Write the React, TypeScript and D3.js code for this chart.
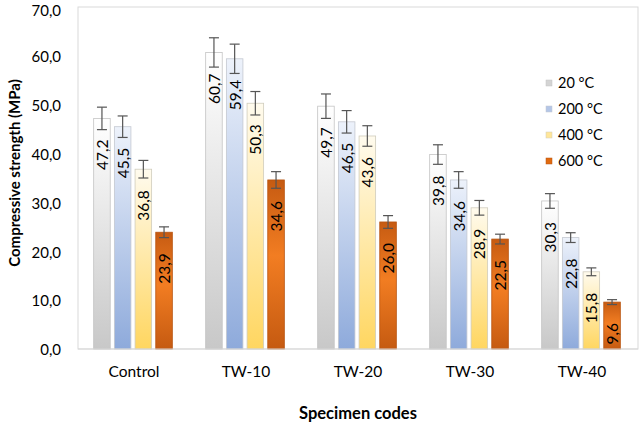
import React from 'react';
import * as d3 from 'd3';

const categories = ['Control', 'TW-10', 'TW-20', 'TW-30', 'TW-40'];
const seriesNames = ['20 °C', '200 °C', '400 °C', '600 °C'];
const values20 = [47.2, 60.7, 49.7, 39.8, 30.3];
const values200 = [45.5, 59.4, 46.5, 34.6, 22.8];
const values400 = [36.8, 50.3, 43.6, 28.9, 15.8];
const values600 = [23.9, 34.6, 26.0, 22.5, 9.6];
const errors20 = [2.3, 3.0, 2.5, 2.0, 1.5];
const errors200 = [2.2, 3.0, 2.3, 1.7, 1.0];
const errors400 = [1.8, 2.4, 2.1, 1.5, 0.8];
const errors600 = [1.1, 1.7, 1.3, 1.0, 0.5];
const yTicks = [0, 10, 20, 30, 40, 50, 60, 70];

const seriesValues = [values20, values200, values400, values600];
const seriesErrors = [errors20, errors200, errors400, errors600];

const gradients = [
  [['0', '#ffffff'], ['1', '#c8c8c8']],
  [['0', '#edf2fb'], ['1', '#8eaadb']],
  [['0', '#fffbee'], ['1', '#ffd660']],
  [['0', '#c65b12'], ['0.45', '#f27d22'], ['1', '#c55a11']],
];
const borders = ['#c4c4c4', '#c4c8d0', '#d0ccbc', '#b85410'];
const legendFill = ['#d4d4d4', '#b4c6e7', '#ffe699', '#e06a10'];

const FONT = 'Lato, "Open Sans", "Liberation Sans", sans-serif';

export default function App() {
  const W = 640, H = 425;
  const left = 78, right = 638, top = 7, bottom = 349;
  const x = d3.scaleBand<string>().domain(categories).range([left, right]).padding(0);
  const y = d3.scaleLinear().domain([0, 70]).range([bottom, top]);
  const fmt = (v: number) => d3.format('.1f')(v).replace('.', ',');

  return (
    <svg width={W} height={H} style={{ position: 'absolute', left: 0, top: 0 }} fontFamily={FONT}>
      <defs>
        {gradients.map((g, i) => (
          <linearGradient key={i} id={`g${i}`} x1="0" y1="0" x2="0" y2="1">
            {g.map(([o, c], j) => <stop key={j} offset={o} stopColor={c} />)}
          </linearGradient>
        ))}
      </defs>
      <rect x={0} y={0} width={W} height={H} fill="#fff" />
      <rect x={left} y={top} width={right - left} height={bottom - top} fill="none" stroke="#d9d9d9" strokeWidth={1} />

      {yTicks.map(t => (
        <text key={t} x={61} y={Math.max(y(t) + 1, 10.5)} dy="0.35em" textAnchor="end" fontSize={15} fill="#000">{fmt(t)}</text>
      ))}

      {categories.map((cat, ci) => {
        const c = (x(cat) as number) + x.bandwidth() / 2 - 1;
        const inner = d3.scaleBand<string>().domain(seriesNames).range([c - 41.4, c + 41.4]).paddingInner(0.2).paddingOuter(0.1);
        return (
          <g key={cat}>
            {seriesNames.map((s, si) => {
              const v = seriesValues[si][ci];
              const e = seriesErrors[si][ci];
              const bx = inner(s) as number;
              const bw = inner.bandwidth();
              const cx = bx + bw / 2;
              return (
                <g key={s}>
                  <rect x={bx} y={y(v)} width={bw} height={y(0) - y(v)} fill={`url(#g${si})`} stroke={borders[si]} strokeWidth={0.8} />
                  <g stroke="#555" strokeWidth={1.2}>
                    <line x1={cx} x2={cx} y1={y(v + e)} y2={y(v - e)} />
                    <line x1={cx - 5} x2={cx + 5} y1={y(v + e)} y2={y(v + e)} />
                    <line x1={cx - 5} x2={cx + 5} y1={y(v - e)} y2={y(v - e)} />
                  </g>
                  <text transform={`translate(${cx},${y(v) + 21}) rotate(-90)`} textAnchor="end" dominantBaseline="central" fontSize={15.5} fill="#000">{fmt(v)}</text>
                </g>
              );
            })}
            <text x={c + 1} y={372} dy="0.35em" textAnchor="middle" fontSize={15.5} fill="#000">{cat}</text>
          </g>
        );
      })}

      <line x1={left} x2={right} y1={bottom} y2={bottom} stroke="#d9d9d9" strokeWidth={1} />

      {seriesNames.map((s, si) => (
        <g key={s} transform={`translate(546,${83 + si * 26})`}>
          <rect x={0} y={-3} width={6} height={6} fill={legendFill[si]} stroke={borders[si]} strokeWidth={0.5} />
          <text x={12} y={0} dy="0.35em" fontSize={14.5} fill="#000">{s}</text>
        </g>
      ))}

      <text transform={`translate(14,173) rotate(-90)`} textAnchor="middle" dominantBaseline="central" fontSize={15} fontWeight="bold" fill="#000">Compressive strength (MPa)</text>
      <text x={(left + right) / 2} y={413} dy="0.35em" textAnchor="middle" fontSize={16.5} fontWeight="bold" fill="#000">Specimen codes</text>
    </svg>
  );
}
